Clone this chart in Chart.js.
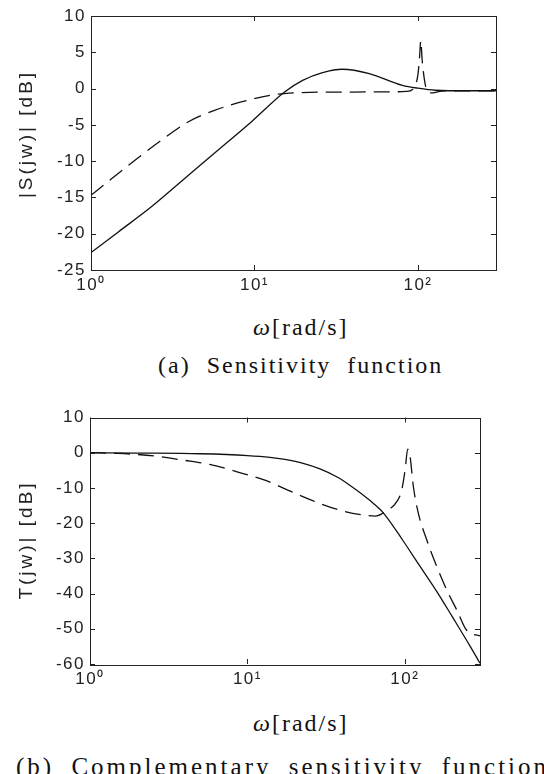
<!DOCTYPE html>
<html>
<head>
<meta charset="utf-8">
<script src="https://cdn.jsdelivr.net/npm/chart.js@4/dist/chart.umd.min.js"></script>
<style>
    body { margin: 0; width: 544px; height: 774px; overflow: hidden; position: relative; background: #fff; font-family: "Liberation Serif", serif; color: #111; }
    canvas { position: absolute; left: 0; }
    .ytitle { position: absolute; font-family: "Liberation Sans", sans-serif; font-size: 19px; letter-spacing: 3px; white-space: nowrap; transform: translate(-50%, -50%) rotate(-90deg); color: #222; }
    .xtitle { position: absolute; font-size: 24px; line-height: 24px; letter-spacing: 2px; white-space: nowrap; }
    .caption { position: absolute; white-space: nowrap; word-spacing: 8px; }
</style>
</head>
<body>
<canvas id="chartS" width="544" height="300" style="top:0"></canvas>
<canvas id="chartT" width="544" height="320" style="top:380px"></canvas>

<div class="ytitle" style="left:26px; top:134px">|S(jw)| [dB]</div>
<div class="xtitle" style="left:253px; top:315px"><i>ω</i>[rad/s]</div>
<div class="caption" style="left:158px; top:353px; font-size:24px; line-height:24px; letter-spacing:2px">(a) Sensitivity function</div>

<div class="ytitle" style="left:26px; top:540px">T(jw)| [dB]</div>
<div class="xtitle" style="left:253px; top:711px"><i>ω</i>[rad/s]</div>
<div class="caption" style="left:16px; top:754px; font-size:25px; line-height:25px; letter-spacing:3px">(b) Complementary sensitivity function</div>

<script>
// x axis (rad/s), shared by both plots
const xTicks = [1, 10, 100];
const xTickLabels = ['10⁰', '10¹', '10²'];

// (a) sensitivity |S(jw)| in dB
const wSsolid = [1, 1.47, 2.34, 3.74, 5.97, 9.55, 15.2, 19.7, 26.1, 34.5, 50.3, 80.3, 100, 128, 200, 300];
const sSolid = [-22.6, -19.75, -16.3, -12.4, -8.5, -4.6, -0.5, 1.14, 2.2, 2.66, 2.07, 0.45, 0.05, -0.23, -0.3, -0.3];
const wSdash = [1, 1.34, 1.85, 2.7, 3.92, 5.7, 8.3, 12.6, 15.2, 25, 40, 60, 85, 93, 97, 100, 102, 104, 106, 109, 113, 120, 140, 200, 300];
const sDash = [-14.7, -12.4, -9.9, -7.1, -4.6, -3.0, -1.85, -0.92, -0.69, -0.5, -0.48, -0.45, -0.4, -0.1, 0.6, 2.0, 4.0, 6.6, 4.0, 1.5, -0.2, -0.6, -0.35, -0.3, -0.3];

// (b) complementary sensitivity |T(jw)| in dB
const wTsolid = [1, 2, 5, 10, 13.9, 17.3, 22.6, 28.9, 37.1, 44.9, 60.1, 72.7, 97.4, 119.5, 160, 199.5, 260, 300];
const tSolid = [0, -0.1, -0.3, -0.8, -1.3, -1.9, -3.0, -4.6, -6.9, -9.3, -13.6, -17.0, -25.0, -31.0, -39.5, -46.5, -55.0, -59.8];
const wTdash = [1, 1.5, 2, 2.63, 3.9, 6.0, 8.7, 12.9, 18.2, 26.2, 39.2, 56.7, 64.7, 74.8, 88.8, 95.5, 100.3, 104.3, 107.9, 113.2, 121.8, 137.8, 159.6, 184.6, 213.8, 247.3, 300];
const tDash = [0, -0.2, -0.5, -1.0, -2.1, -3.5, -5.5, -7.8, -10.7, -13.7, -16.4, -17.8, -18.0, -16.8, -13.9, -10.6, -4.9, 1.0, -1.1, -9.6, -17.2, -24.8, -32.4, -39.0, -44.7, -50.5, -52];

// wider tick lettering, like the scanned figure
const spacingPlugin = {
    id: 'spacing',
    beforeDraw(chart) {
        chart.ctx.letterSpacing = '1.5px';
    }
};

// matlab style frame with inward ticks on all four sides
const framePlugin = {
    id: 'frame',
    afterDatasetsDraw(chart) {
        const ctx = chart.ctx;
        const a = chart.chartArea;
        const xs = chart.scales.x, ys = chart.scales.y;
        ctx.save();
        ctx.strokeStyle = '#222';
        ctx.lineWidth = 1;
        ctx.strokeRect(Math.round(a.left) + 0.5, Math.round(a.top) + 0.5, Math.round(a.right - a.left), Math.round(a.bottom - a.top));
        ctx.beginPath();
        ys.ticks.forEach(t => {
            const py = Math.round(ys.getPixelForValue(t.value)) + 0.5;
            ctx.moveTo(a.left, py); ctx.lineTo(a.left + 5, py);
            ctx.moveTo(a.right, py); ctx.lineTo(a.right - 5, py);
        });
        xs.ticks.forEach(t => {
            const px = Math.round(xs.getPixelForValue(t.value)) + 0.5;
            ctx.moveTo(px, a.top); ctx.lineTo(px, a.top + 5);
            ctx.moveTo(px, a.bottom); ctx.lineTo(px, a.bottom - 5);
        });
        ctx.stroke();
        ctx.restore();
    }
};

function toPoints(ws, vals) {
    return ws.map((w, i) => ({ x: w, y: vals[i] }));
}

function makeChart(id, solidW, solidV, dashW, dashV, yMin, yMax, yStep, pad, yWidth, xHeight) {
    const ctx = document.getElementById(id).getContext('2d');
    return new Chart(ctx, {
        type: 'line',
        data: {
            datasets: [{
                data: toPoints(solidW, solidV),
                borderColor: '#111',
                borderWidth: 1.3
            }, {
                data: toPoints(dashW, dashV),
                borderColor: '#111',
                borderWidth: 1.3,
                borderDash: [16, 8]
            }]
        },
        options: {
            responsive: false,
            animation: false,
            devicePixelRatio: 1,
            layout: { padding: pad },
            elements: {
                point: { radius: 0 },
                line: { cubicInterpolationMode: 'monotone' }
            },
            plugins: {
                legend: { display: false },
                tooltip: { enabled: false }
            },
            scales: {
                x: {
                    type: 'logarithmic',
                    min: 1,
                    max: 300,
                    border: { display: false },
                    grid: { display: false, drawTicks: false },
                    afterBuildTicks: s => { s.ticks = xTicks.map(v => ({ value: v })); },
                    afterFit: s => { s.height = xHeight; s.paddingLeft = 0; s.paddingRight = 0; },
                    ticks: {
                        padding: 5,
                        maxRotation: 0,
                        autoSkip: false,
                        color: '#222',
                        font: { family: 'Liberation Sans', size: 17 },
                        callback: v => xTickLabels[xTicks.indexOf(v)] || ''
                    }
                },
                y: {
                    min: yMin,
                    max: yMax,
                    border: { display: false },
                    grid: { display: false, drawTicks: false },
                    afterFit: s => { s.width = yWidth; s.paddingTop = 0; s.paddingBottom = 0; },
                    ticks: {
                        stepSize: yStep,
                        padding: 5,
                        color: '#222',
                        font: { family: 'Liberation Sans', size: 17 }
                    }
                }
            }
        },
        plugins: [spacingPlugin, framePlugin]
    });
}

makeChart('chartS', wSsolid, sSolid, wSdash, sDash, -25, 10, 5,
    { top: 16, right: 48, bottom: 0, left: 0 }, 91, 30);
makeChart('chartT', wTsolid, tSolid, wTdash, tDash, -60, 10, 10,
    { top: 37.5, right: 64, bottom: 0, left: 0 }, 90, 36);
</script>
</body>
</html>
